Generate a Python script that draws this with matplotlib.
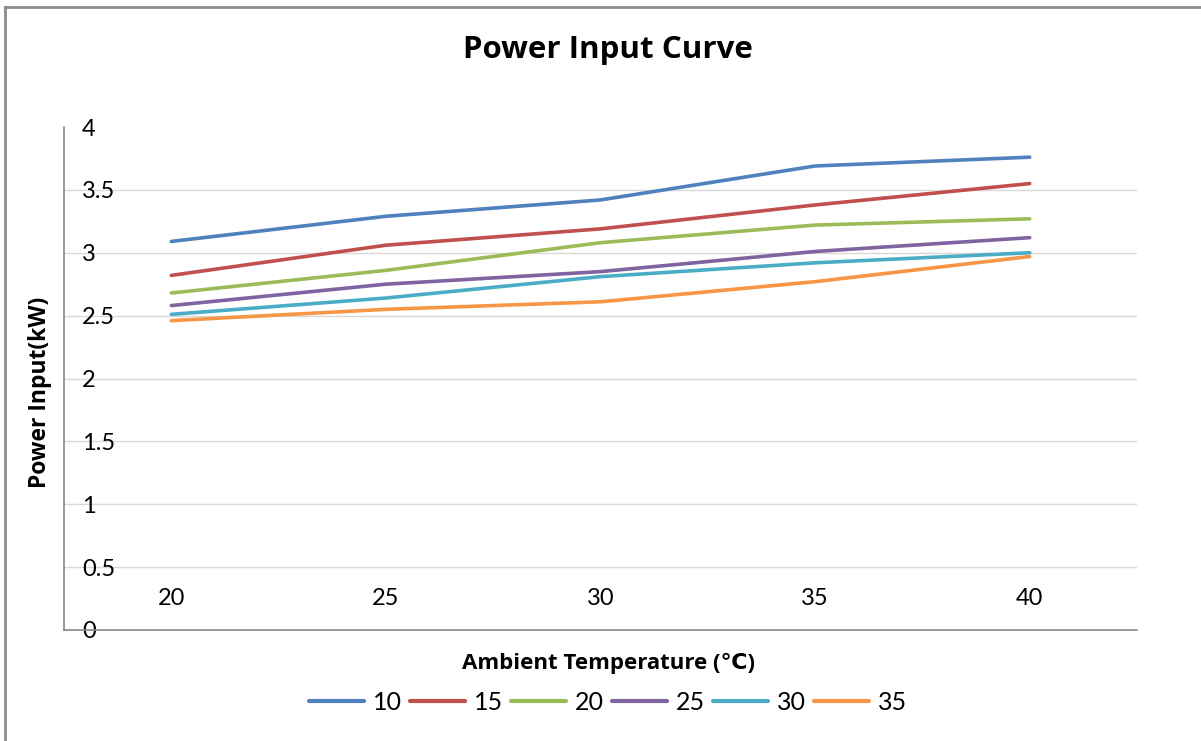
import matplotlib.pyplot as plt
from matplotlib.lines import Line2D

# Power input vs ambient temperature, one line per series
temps = [20, 25, 30, 35, 40]
series_names = ['10', '15', '20', '25', '30', '35']
p10 = [3.09, 3.29, 3.42, 3.69, 3.76]
p15 = [2.82, 3.06, 3.19, 3.38, 3.55]
p20 = [2.68, 2.86, 3.08, 3.22, 3.27]
p25 = [2.58, 2.75, 2.85, 3.01, 3.12]
p30 = [2.51, 2.64, 2.81, 2.92, 3.00]
p35 = [2.46, 2.55, 2.61, 2.77, 2.97]
y_ticks = [0, 0.5, 1, 1.5, 2, 2.5, 3, 3.5, 4]
y_tick_labels = ['0', '0.5', '1', '1.5', '2', '2.5', '3', '3.5', '4']

colors = ['#4F81BD', '#C0504D', '#9BBB59', '#8064A2', '#4BACC6', '#F79646']

W, H = 1201, 741
fig = plt.figure(figsize=(W / 100, H / 100), dpi=100)
ax = fig.add_axes([64 / W, 1 - 630 / H, (1137 - 64) / W, (630 - 127) / H])

for vals, name, c in zip([p10, p15, p20, p25, p30, p35], series_names, colors):
    ax.plot(temps, vals, color=c, lw=2.6, label=name, solid_capstyle='round')

ax.set_xlim(17.5, 42.5)
ax.set_ylim(0, 4)
ax.set_xticks(temps)
ax.set_xticklabels([str(t) for t in temps], fontsize=17, family='Lato')
ax.set_yticks(y_ticks)
ax.set_yticklabels(y_tick_labels, fontsize=17, family='Lato')
for lab in ax.get_yticklabels():
    lab.set_horizontalalignment('left')
ax.tick_params(axis='y', length=0, pad=-13)
ax.tick_params(axis='x', length=0, pad=-30.5)

ax.yaxis.grid(True, color='#d9d9d9', lw=1)
ax.get_ygridlines()[-1].set_visible(False)
ax.set_axisbelow(True)
for s in ['top', 'right']:
    ax.spines[s].set_visible(False)
ax.spines['left'].set_color('#888888')
ax.spines['bottom'].set_color('#888888')
ax.spines['left'].set_linewidth(1.2)
ax.spines['bottom'].set_linewidth(1.2)

fig.text(608 / W, 1 - 50 / H, 'Power Input Curve', ha='center', va='center',
         fontsize=22.5, fontweight='bold', family='Open Sans')
fig.text(608 / W, 1 - 663 / H, 'Ambient Temperature (\u2103)', ha='center', va='center',
         fontsize=16, fontweight='bold', family=['Open Sans', 'DejaVu Sans'])
fig.text(40 / W, 1 - 392 / H, 'Power Input(kW)', ha='center', va='center',
         rotation=90, fontsize=16.5, fontweight='bold', family='Open Sans')

leg = fig.legend(loc='center', bbox_to_anchor=(608 / W, 1 - 702 / H), ncol=6, frameon=False,
                 prop={'family': 'Lato', 'size': 18}, handlelength=2.2, handletextpad=0.36,
                 columnspacing=0.32)
for h in leg.legend_handles:
    h.set_linewidth(3)

# chart area border (left and top edges visible)
fig.add_artist(Line2D([5 / W, 5 / W], [0, 1 - 7 / H], color='#8c8c8c', lw=2, transform=fig.transFigure))
fig.add_artist(Line2D([5 / W, 1], [1 - 7 / H, 1 - 7 / H], color='#8c8c8c', lw=2, transform=fig.transFigure))

fig.savefig('out.png', dpi=100)
